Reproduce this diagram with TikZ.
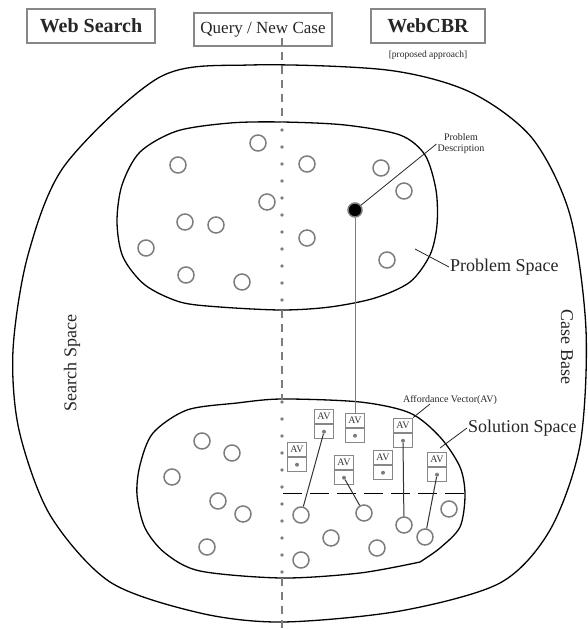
\documentclass[tikz,border=0pt]{standalone}
\usepackage{fontspec}
\setmainfont{Liberation Serif}
\usetikzlibrary{shapes.multipart}
\usetikzlibrary{calc}

\definecolor{casegray}{RGB}{125,125,125}
\definecolor{boxgray}{RGB}{135,135,135}
\newcommand{\avpart}{\rule[-1pt]{0pt}{8.5pt}}

\begin{document}
\begin{tikzpicture}[x=1pt,y=-1pt]
    \tikzstyle{header}   = [draw=boxgray, line width=1.5pt, text=black!85, minimum height=34pt, inner sep=0pt]
    \tikzstyle{region}   = [draw, black, line width=1.3pt]
    \tikzstyle{case}     = [circle, draw=casegray, line width=1.5pt, minimum size=16pt, inner sep=0pt]
    \tikzstyle{query}    = [circle, fill=black, draw=casegray, line width=1.5pt, minimum size=14pt, inner sep=0pt]
    \tikzstyle{avbox}    = [rectangle split, rectangle split parts=2, draw=boxgray, line width=1.3pt,
                            minimum width=19pt, inner xsep=1pt, inner ysep=2.5pt, text=black!80,
                            font=\fontsize{10}{10}\selectfont]
    \tikzstyle{avdot}    = [circle, fill=casegray, minimum size=4pt, inner sep=0pt]
    \tikzstyle{link}     = [draw, line width=1pt, black!80]
    \tikzstyle{leader}   = [draw, line width=0.8pt, black!85]
    \tikzstyle{divider}  = [draw, casegray, line width=1.5pt, dash pattern=on 8pt off 6pt]
    \tikzstyle{bigtext}  = [text=black!85, font=\fontsize{18}{20}\selectfont, inner sep=1pt]
    \tikzstyle{smalltext}= [text=black!85, font=\fontsize{10}{11}\selectfont, inner sep=1pt]

    \useasboundingbox (0,0) rectangle (587,629);

    % headers
    \node[header, minimum width=128pt, font=\fontsize{20}{20}\selectfont\bfseries] (websearch) at (91,26)  {Web Search};
    \node[header, minimum width=138pt, minimum height=33pt, font=\fontsize{17}{17}\selectfont] (newcase) at (263,29.5) {Query / New Case};
    \node[header, minimum width=114pt, font=\fontsize{20}{20}\selectfont\bfseries] (webcbr)    at (428,26)  {WebCBR};
    \node[smalltext, font=\fontsize{9.5}{10}\selectfont] (proposed) at (428,55) {[proposed approach]};

    % outer space
    \draw[region] plot[smooth cycle] coordinates {(250,65) (387,70) (470,92) (532,138) (570,215) (586,330)
        (580,445) (550,530) (500,583) (400,611) (282,622) (200,613) (110,582) (50,515) (19,430)
        (13,350) (28,255) (65,165) (160,77)};

    % problem space
    \draw[region] plot[smooth cycle] coordinates {(282,122) (345,125) (400,135) (425,155) (436,190)
        (437,225) (430,255) (410,282) (375,298) (330,307) (282,310) (220,307) (180,302) (145,285)
        (123,257) (117,222) (122,185) (140,152) (177,131) (230,123)};

    % solution space (with its corner at the lower right)
    \draw[region] plot[smooth] coordinates {(420,562) (360,573) (282,578) (200,571) (165,553) (145,528)
        (137,495) (140,465) (153,433) (187,410) (237,403) (282,399) (360,402) (410,413) (440,437)
        (460,467) (465,495) (460,527) (440,548) (420,562)};

    % query / new case divider
    \coordinate (ptop) at (282,122);
    \coordinate (pbot) at (282,310);
    \coordinate (stop) at (282,400);
    \coordinate (sbot) at (282,578);
    \coordinate (vend) at (282,629);
    \draw[divider] ($(newcase.south)+(19,-9)$) -- (ptop);
    \draw[divider] (pbot) -- (stop);
    \draw[divider] (sbot) -- (vend);
    \foreach \y in {130,147,...,300} \fill[casegray] (282,\y) circle (1.8pt);
    \foreach \y in {402,419,...,572} \fill[casegray] (282,\y) circle (1.8pt);

    \draw[line width=1pt, dash pattern=on 19pt off 8pt] (283,493) -- (465,493);

    % problem cases
    \node[case] (p1)  at (258,143) {};
    \node[case] (p2)  at (178,165) {};
    \node[case] (p3)  at (307,164) {};
    \node[case] (p4)  at (381,168) {};
    \node[case] (p5)  at (404,191) {};
    \node[case] (p6)  at (267,202) {};
    \node[case] (p7)  at (185,222) {};
    \node[case] (p8)  at (216,225) {};
    \node[case] (p9)  at (307,238) {};
    \node[case] (p10) at (146,248) {};
    \node[case] (p11) at (387,260) {};
    \node[case] (p12) at (186,275) {};
    \node[case] (p13) at (242,282) {};
    \node[query] (q)  at (355,210) {};

    % solution cases
    \node[case] (s1)  at (202,441) {};
    \node[case] (s2)  at (232,453) {};
    \node[case] (s3)  at (172,477) {};
    \node[case] (s4)  at (218,501) {};
    \node[case] (s5)  at (243,514) {};
    \node[case] (s6)  at (207,547) {};
    \node[case] (s7)  at (301,515) {};
    \node[case] (s8)  at (364,513) {};
    \node[case] (s9)  at (449,509) {};
    \node[case] (s10) at (404,525) {};
    \node[case] (s11) at (331,538) {};
    \node[case] (s12) at (425,537) {};
    \node[case] (s13) at (377,548) {};
    \node[case] (s14) at (301,560) {};

    % affordance vectors
    \node[avbox] (a1) at (324,424) {\avpart AV\nodepart{two}\avpart};
    \node[avbox] (a2) at (355,428) {\avpart AV\nodepart{two}\avpart};
    \node[avbox] (a3) at (403,433) {\avpart AV\nodepart{two}\avpart};
    \node[avbox] (a4) at (297,457) {\avpart AV\nodepart{two}\avpart};
    \node[avbox] (a5) at (344,470) {\avpart AV\nodepart{two}\avpart};
    \node[avbox] (a6) at (383,465) {\avpart AV\nodepart{two}\avpart};
    \node[avbox] (a7) at (437,467) {\avpart AV\nodepart{two}\avpart};
    \node[avdot] (d1) at ($(a1.text split)!0.5!(a1.south)$) {};
    \node[avdot] (d2) at ($(a2.text split)!0.5!(a2.south)$) {};
    \node[avdot] (d3) at ($(a3.text split)!0.5!(a3.south)$) {};
    \node[avdot] (d4) at ($(a4.text split)!0.5!(a4.south)$) {};
    \node[avdot] (d5) at ($(a5.text split)!0.5!(a5.south)$) {};
    \node[avdot] (d6) at ($(a6.text split)!0.5!(a6.south)$) {};
    \node[avdot] (d7) at ($(a7.text split)!0.5!(a7.south)$) {};

    \draw[link] (d1) -- (s7);
    \draw[link] (d5) -- (s8);
    \draw[link] (d3) -- (s10);
    \draw[link] (d7) -- (s12);
    \draw[draw=casegray, line width=1pt] (q) -- (a2.north);

    % labels
    \node[smalltext, align=center] (pdesc) at (461,144) {Problem\\Description};
    \draw[leader] (q) -- (pdesc.west);

    \node[bigtext, anchor=west] (pspace) at (449,267) {Problem Space};
    \coordinate (psin) at (415,249);
    \draw[leader] (psin) -- (pspace.west);

    \node[bigtext, anchor=west] (sspace) at (467,428) {Solution Space};
    \coordinate (ssin) at (440,448);
    \draw[leader] (ssin) -- (sspace.west);

    \node[smalltext] (avlabel) at (450,400) {Affordance Vector(AV)};
    \coordinate (avtip) at (430,404);
    \draw[leader] (a3.north east) -- (avtip);

    \node[bigtext, rotate=90]  (searchspace) at (72,363) {Search Space};
    \node[bigtext, rotate=-90] (casebase)    at (567,347) {Case Base};
\end{tikzpicture}
\end{document}
